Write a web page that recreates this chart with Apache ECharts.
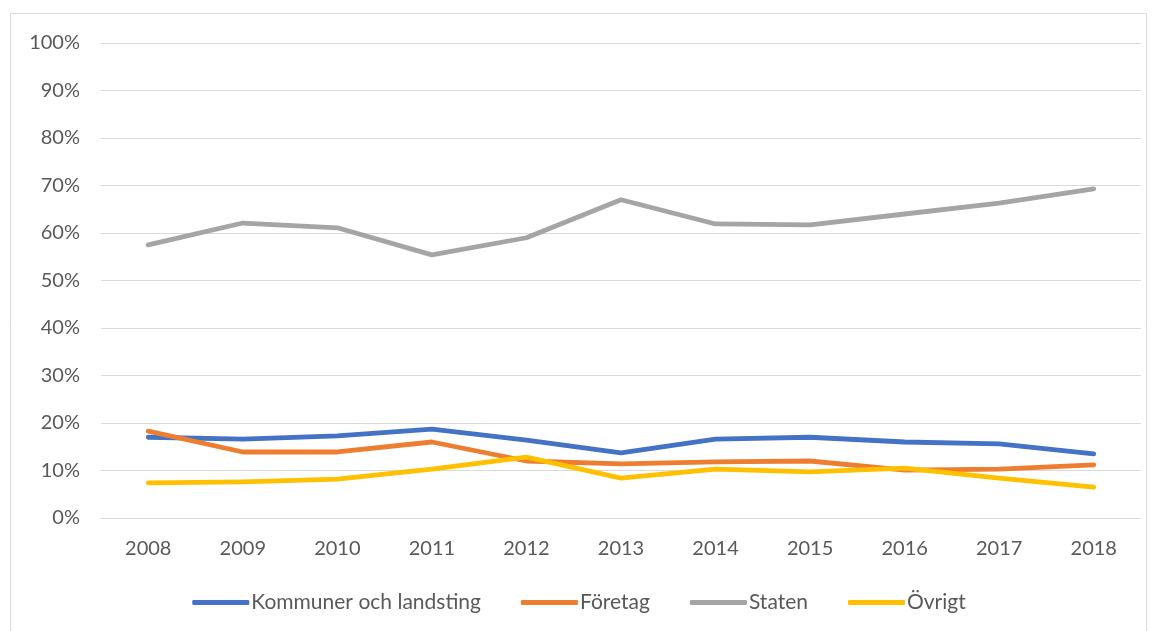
<!doctype html>
<html>
<head>
    <meta charset="UTF-8">
    <title>Andel per sektor 2008-2018</title>
    <script src="https://cdn.jsdelivr.net/npm/echarts@6/dist/echarts.min.js"></script>
    <style>
        html, body { margin: 0; padding: 0; background: #fff; }
    </style>
</head>
<body>
<div id="main" style="width: 1158px;height:631px;"></div>
<script type="text/javascript">
    // år och andelar (%)
    var years = ['2008', '2009', '2010', '2011', '2012', '2013', '2014', '2015', '2016', '2017', '2018'];
    var kommuner = [17.0, 16.6, 17.3, 18.7, 16.4, 13.7, 16.6, 17.0, 16.0, 15.6, 13.5];
    var foretag = [18.3, 13.9, 13.9, 16.0, 12.0, 11.4, 11.8, 12.0, 10.1, 10.3, 11.2];
    var staten = [57.5, 62.1, 61.1, 55.4, 59.0, 67.0, 61.9, 61.7, 64.0, 66.3, 69.3];
    var ovrigt = [7.4, 7.6, 8.2, 10.3, 12.8, 8.4, 10.3, 9.7, 10.5, 8.4, 6.5];

    var myChart = echarts.init(document.getElementById('main'));
    var fnt = 'Lato, "Open Sans", sans-serif';

    function line(name, data, color) {
        return {
            name: name,
            type: 'line',
            data: data,
            symbol: 'none',
            lineStyle: { width: 4.8, color: color, cap: 'round', join: 'round' },
            itemStyle: { color: color },
            animation: false
        };
    }

    var option = {
        animation: false,
        graphic: [{
            type: 'rect',
            shape: { x: 10.5, y: 13.5, width: 1136, height: 630 },
            style: { fill: 'none', stroke: '#d9d9d9', lineWidth: 1 }
        }],
        grid: { left: 101, right: 17, top: 43, bottom: 113 },
        legend: {
            bottom: 13,
            left: 'center',
            itemWidth: 57,
            itemHeight: 5,
            itemGap: 40,
            icon: 'roundRect',
            textStyle: { fontFamily: fnt, fontSize: 21, color: '#595959', padding: [0, 0, 0, -3] },
            data: ['Kommuner och landsting', 'Företag', 'Staten', 'Övrigt']
        },
        xAxis: {
            type: 'category',
            data: years,
            boundaryGap: true,
            axisLine: { show: false },
            axisTick: { show: false },
            axisLabel: { fontFamily: fnt, fontSize: 20, color: '#595959', margin: 21 }
        },
        yAxis: {
            type: 'value',
            min: 0,
            max: 100,
            interval: 10,
            axisLabel: { fontFamily: fnt, fontSize: 20, color: '#595959', formatter: '{value}%', margin: 21 },
            splitLine: { lineStyle: { color: '#d9d9d9', width: 1 } }
        },
        series: [
            line('Kommuner och landsting', kommuner, '#4472C4'),
            line('Företag', foretag, '#ED7D31'),
            line('Staten', staten, '#A5A5A5'),
            line('Övrigt', ovrigt, '#FFC000')
        ]
    };
    myChart.setOption(option);
</script>
</body>
</html>
